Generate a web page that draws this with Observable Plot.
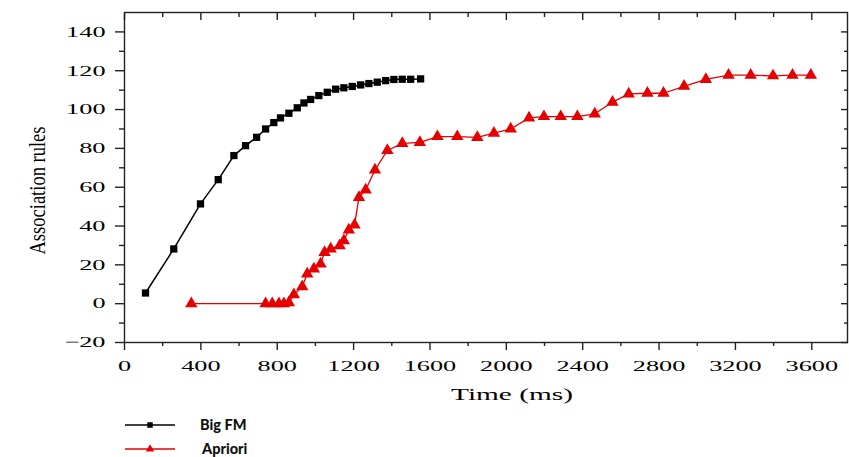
<!DOCTYPE html>
<html>
<head>
<meta charset="utf-8">
<script src="https://cdn.jsdelivr.net/npm/d3@7"></script>
<script src="https://cdn.jsdelivr.net/npm/@observablehq/plot@0.6"></script>
<style>
  html, body { margin: 0; padding: 0; background: #fff; }
  #chart svg { display: block; }
  #legend svg { display: block; }
</style>
</head>
<body>
<div id="chart"></div>
<div id="legend"></div>
<script>
// ---- Data ----
const seriesNames = ["Big FM", "Apriori"];
const seriesColors = ["#000000", "#e60000"];

const bigFmTime = [110, 258, 398, 491, 573, 634, 692, 739, 782, 817, 861, 905, 940, 975, 1018, 1062, 1106, 1149, 1193, 1237, 1280, 1324, 1368, 1411, 1455, 1499, 1551];
const bigFmRules = [5.5, 28.2, 51.4, 63.9, 76.3, 81.4, 85.7, 90.0, 93.3, 95.7, 98.1, 100.9, 103.4, 105.2, 107.2, 108.9, 110.5, 111.2, 111.9, 112.7, 113.4, 114.1, 114.9, 115.5, 115.6, 115.6, 115.8];

const aprioriTime = [350, 739, 774, 809, 835, 861, 887, 931, 957, 992, 1027, 1048, 1080, 1127, 1149, 1175, 1205, 1228, 1263, 1312, 1377, 1455, 1547, 1639, 1743, 1848, 1935, 2023, 2119, 2197, 2285, 2372, 2463, 2556, 2641, 2739, 2823, 2931, 3045, 3164, 3280, 3397, 3499, 3595];
const aprioriRules = [0, 0, 0, 0, 0, 0.5, 4.6, 8.8, 15.3, 17.9, 20.5, 26.4, 28.2, 29.9, 32.5, 38.0, 40.6, 54.8, 58.6, 68.9, 78.9, 82.6, 83.1, 86.1, 86.1, 85.7, 87.8, 90.0, 95.7, 96.4, 96.4, 96.4, 97.8, 103.8, 108.1, 108.4, 108.4, 112.0, 115.5, 117.7, 117.7, 117.4, 117.7, 117.7];

const xMajorTicks = [0, 400, 800, 1200, 1600, 2000, 2400, 2800, 3200, 3600];
const xMinorTicks = [200, 600, 1000, 1400, 1800, 2200, 2600, 3000, 3400];
const yMajorTicks = [-20, 0, 20, 40, 60, 80, 100, 120, 140];
const yMinorTicks = [-10, 10, 30, 50, 70, 90, 110, 130];
const xLabel = "Time (ms)";
const yLabel = "Association rules";

// ---- Build table ----
const bigFm = bigFmTime.map((t, i) => ({series: seriesNames[0], time: t, rules: bigFmRules[i]}));
const apriori = aprioriTime.map((t, i) => ({series: seriesNames[1], time: t, rules: aprioriRules[i]}));

const axisColor = "#222";
const fmt = d3.format("d");
const chart = Plot.plot({
  width: 849,
  height: 410,
  marginLeft: 124,
  marginRight: 2,
  marginTop: 12,
  marginBottom: 68,
  x: {domain: [0, 3787]},
  y: {domain: [-20, 150]},
  style: {fontFamily: "'Liberation Serif', 'Times New Roman', serif", fontSize: "15px", color: "#000", background: "#fff", overflow: "visible"},
  marks: [
    Plot.frame({stroke: axisColor, strokeWidth: 1.4}),
    // bottom axis
    Plot.axisX(xMajorTicks, {anchor: "bottom", tickSize: 8, tickPadding: 10, tickFormat: fmt, stroke: axisColor, strokeWidth: 1.4, fontFamily: "'Liberation Serif', serif", label: xLabel, labelAnchor: "center", labelArrow: "none", labelOffset: 57}),
    Plot.axisX(xMinorTicks, {anchor: "bottom", tickSize: 4, stroke: axisColor, strokeWidth: 1.4, fill: "none"}),
    // top mirrored (inward) ticks
    Plot.axisX(xMajorTicks, {anchor: "top", tickSize: -7, stroke: axisColor, strokeWidth: 1.4, fill: "none"}),
    Plot.axisX(xMinorTicks, {anchor: "top", tickSize: -4, stroke: axisColor, strokeWidth: 1.4, fill: "none"}),
    // left axis
    Plot.axisY(yMajorTicks, {anchor: "left", tickSize: 9, tickPadding: 10, tickFormat: fmt, stroke: axisColor, strokeWidth: 1.4, fontFamily: "'Liberation Serif', serif", label: yLabel, labelAnchor: "center", labelArrow: "none", labelOffset: 97}),
    Plot.axisY(yMinorTicks, {anchor: "left", tickSize: 5, stroke: axisColor, strokeWidth: 1.4, fill: "none"}),
    // right mirrored (inward) ticks
    Plot.axisY(yMajorTicks, {anchor: "right", tickSize: -7, stroke: axisColor, strokeWidth: 1.4, fill: "none"}),
    Plot.axisY(yMinorTicks, {anchor: "right", tickSize: -4, stroke: axisColor, strokeWidth: 1.4, fill: "none"}),
    // series
    Plot.line(bigFm, {x: "time", y: "rules", stroke: seriesColors[0], strokeWidth: 1.5}),
    Plot.dot(bigFm, {x: "time", y: "rules", symbol: "square", r: 4.1, fill: seriesColors[0], stroke: "none"}),
    Plot.line(apriori, {x: "time", y: "rules", stroke: seriesColors[1], strokeWidth: 1.3}),
    Plot.dot(apriori, {x: "time", y: "rules", symbol: "triangle", r: 4.6, fill: seriesColors[1], stroke: "none"})
  ]
});
document.getElementById("chart").append(chart);

// Stretch tick labels horizontally like the reference (which is stretched)
chart.querySelectorAll('g[aria-label="x-axis tick label"] text, g[aria-label="y-axis tick label"] text').forEach(t => {
  const w = t.getComputedTextLength();
  t.setAttribute("textLength", (w * 1.75).toFixed(1));
  t.setAttribute("lengthAdjust", "spacingAndGlyphs");
});
chart.querySelectorAll('g[aria-label="x-axis label"] text').forEach(t => {
  t.setAttribute("font-size", "16");
  t.setAttribute("dx", "26");
  const w = t.getComputedTextLength();
  t.setAttribute("textLength", "122");
  t.setAttribute("lengthAdjust", "spacingAndGlyphs");
});
chart.querySelectorAll('g[aria-label="y-axis label"] text').forEach(t => {
  t.setAttribute("font-size", "24");
  t.setAttribute("dx", "-13");
  t.setAttribute("textLength", "128");
  t.setAttribute("lengthAdjust", "spacingAndGlyphs");
});

// ---- Legend (below the chart) ----
const lg = d3.select("#legend").append("svg").attr("width", 849).attr("height", 47);
const rows = [
  {name: seriesNames[0], color: seriesColors[0], sym: d3.symbolSquare, size: 30, y: 15, tx: 200},
  {name: seriesNames[1], color: seriesColors[1], sym: d3.symbolTriangle, size: 30, y: 39, tx: 202}
];
rows.forEach(r => {
  lg.append("line").attr("x1", 125).attr("x2", 175).attr("y1", r.y).attr("y2", r.y)
    .attr("stroke", r.color).attr("stroke-width", 1.3);
  lg.append("path").attr("d", d3.symbol(r.sym, r.size)()).attr("transform", `translate(150,${r.y})`).attr("fill", r.color);
  lg.append("text").attr("x", r.tx).attr("y", r.y).attr("dy", "0.35em")
    .attr("font-family", "Lato, 'Open Sans', sans-serif").attr("font-weight", "900").attr("font-size", 14.5)
    .attr("fill", "#111").text(r.name);
});
</script>
</body>
</html>
